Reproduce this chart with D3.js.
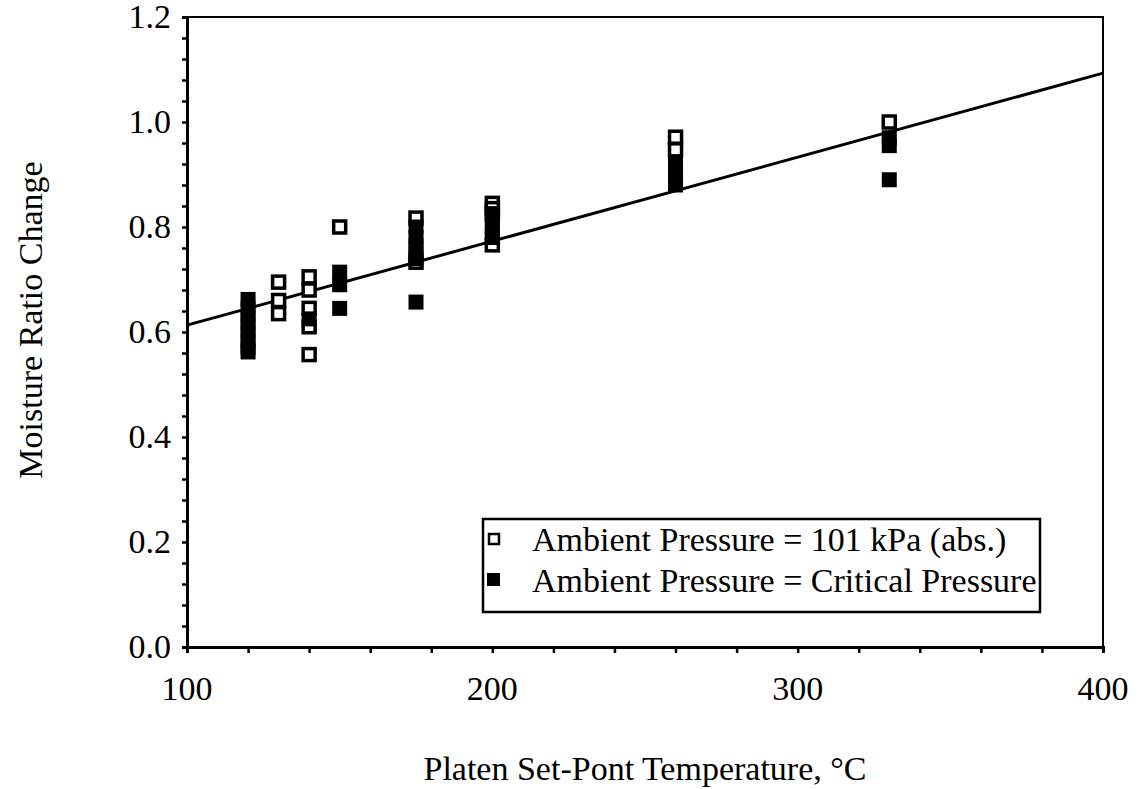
<!DOCTYPE html>
<html>
<head>
<meta charset="utf-8">
<script src="https://cdn.jsdelivr.net/npm/d3@7"></script>
<style>
  body { margin: 0; background: #fff; }
  svg { display: block; }
  text { font-family: "Liberation Serif", "DejaVu Serif", serif; }
</style>
</head>
<body>
<div id="chart"></div>
<script>
(function () {
  "use strict";

  // Platen temperature (°C) and moisture ratio change
  const ambientTemp = [130, 130, 130, 140, 140, 140, 140, 140, 150, 175, 175, 200, 200, 200, 200, 260, 260, 330];
  const ambientMR   = [0.695, 0.66, 0.635, 0.705, 0.68, 0.645, 0.61, 0.557, 0.80, 0.817, 0.733, 0.845, 0.835, 0.825, 0.766, 0.971, 0.947, 1.0];

  const criticalTemp = [120, 120, 120, 120, 120, 120, 120, 120, 140, 150, 150, 150, 175, 175, 175, 175, 175, 175, 200, 200, 200, 200, 260, 260, 260, 330, 330, 330];
  const criticalMR   = [0.662, 0.645, 0.63, 0.615, 0.60, 0.585, 0.57, 0.562, 0.625, 0.714, 0.69, 0.645, 0.80, 0.78, 0.765, 0.75, 0.74, 0.657, 0.82, 0.80, 0.79, 0.78, 0.92, 0.90, 0.88, 0.97, 0.955, 0.89];

  // Linear fit shown in the figure
  const fitX = [100, 400];
  const fitY = [0.613, 1.093];

  const xTicks = [100, 200, 300, 400];
  const yTicks = [0.0, 0.2, 0.4, 0.6, 0.8, 1.0, 1.2];
  const legendLabels = ["Ambient Pressure = 101 kPa (abs.)", "Ambient Pressure = Critical Pressure"];

  const W = 1138, H = 789;
  const FS = "34px";
  const left = 187, right = 1103, top = 17, bottom = 647;

  const svg = d3.select("#chart").append("svg").attr("width", W).attr("height", H);

  const x = d3.scaleLinear().domain([100, 400]).range([left, right]);
  const y = d3.scaleLinear().domain([0, 1.2]).range([bottom, top]);

  // Frame
  svg.append("rect").attr("x", left).attr("y", top)
    .attr("width", right - left).attr("height", bottom - top)
    .attr("fill", "none").attr("stroke", "#000").attr("stroke-width", 2);

  // X axis
  const xAxis = svg.append("g").attr("transform", `translate(0,${bottom})`)
    .call(d3.axisBottom(x).tickValues(d3.range(100, 401, 20)).tickSize(6).tickFormat(""));
  xAxis.select(".domain").attr("stroke-width", 3);
  xAxis.selectAll(".tick line").attr("stroke-width", 2.5);
  xAxis.selectAll(".label").data(xTicks).enter().append("text")
    .attr("x", d => x(d)).attr("y", 53)
    .attr("text-anchor", "middle").attr("font-size", FS)
    .attr("fill", "#000").text(d => d);

  // Y axis
  const yAxis = svg.append("g").attr("transform", `translate(${left},0)`)
    .call(d3.axisLeft(y).tickValues(d3.range(0, 1.2001, 0.04)).tickSize(5).tickFormat(""));
  yAxis.select(".domain").attr("stroke-width", 3);
  yAxis.selectAll(".tick line").attr("stroke-width", 2.5);
  yAxis.selectAll(".label").data(yTicks).enter().append("text")
    .attr("x", -16).attr("y", d => y(d) + 11)
    .attr("text-anchor", "end").attr("font-size", FS)
    .attr("fill", "#000").text(d => d.toFixed(1));

  // Regression line
  svg.append("line")
    .attr("x1", x(fitX[0])).attr("y1", y(fitY[0]))
    .attr("x2", x(fitX[1])).attr("y2", y(fitY[1]))
    .attr("stroke", "#000").attr("stroke-width", 3);

  const S = 15;
  // Open markers
  svg.append("g").selectAll("rect").data(ambientTemp).enter().append("rect")
    .attr("x", d => x(d) - S / 2 + 1.5).attr("y", (d, i) => y(ambientMR[i]) - S / 2 + 1.5)
    .attr("width", S - 3).attr("height", S - 3)
    .attr("fill", "#fff").attr("stroke", "#000").attr("stroke-width", 3.5);

  // Filled markers
  svg.append("g").selectAll("rect").data(criticalTemp).enter().append("rect")
    .attr("x", d => x(d) - S / 2).attr("y", (d, i) => y(criticalMR[i]) - S / 2)
    .attr("width", S).attr("height", S).attr("fill", "#000");

  // Legend
  const lg = svg.append("g");
  lg.append("rect").attr("x", 483).attr("y", 519).attr("width", 557).attr("height", 93)
    .attr("fill", "#fff").attr("stroke", "#000").attr("stroke-width", 2.5);
  legendLabels.forEach((lbl, i) => {
    const cy = 539 + i * 41;
    if (i === 0) {
      lg.append("rect").attr("x", 489).attr("y", cy - 5).attr("width", 10).attr("height", 10)
        .attr("fill", "#fff").attr("stroke", "#000").attr("stroke-width", 2.5);
    } else {
      lg.append("rect").attr("x", 487).attr("y", cy - 7).attr("width", 13).attr("height", 13)
        .attr("fill", "#000");
    }
    lg.append("text").attr("x", 532).attr("y", cy + 12)
      .attr("font-size", FS).attr("fill", "#000").text(lbl);
  });

  // Axis titles
  svg.append("text").attr("x", 645).attr("y", 780)
    .attr("text-anchor", "middle").attr("font-size", FS)
    .attr("fill", "#000").text("Platen Set-Pont Temperature, °C");
  svg.append("text").attr("transform", "translate(42,320) rotate(-90)")
    .attr("text-anchor", "middle").attr("font-size", FS)
    .attr("fill", "#000").text("Moisture Ratio Change");
})();
</script>
</body>
</html>
